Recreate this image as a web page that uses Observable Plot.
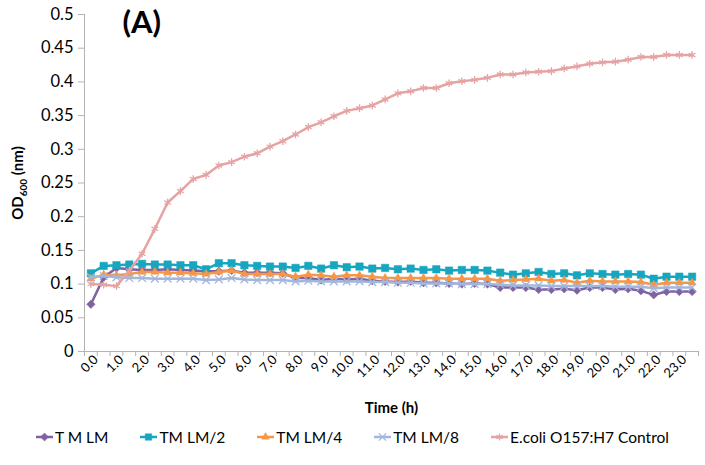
<!DOCTYPE html>
<html><head><meta charset="utf-8">
<script src="https://cdn.jsdelivr.net/npm/d3@7"></script>
<script src="https://cdn.jsdelivr.net/npm/@observablehq/plot@0.6"></script>
<style>
body{margin:0;background:#fff;font-family:Lato,"Open Sans",sans-serif;}
#chart svg{display:block;}
#legend{display:flex;justify-content:center;align-items:center;gap:32px;font-size:15.5px;height:34px;padding-top:0;color:#000;}
#legend .item{display:flex;align-items:center;gap:2px;white-space:nowrap;}
</style></head><body>
<div id="chart"></div>
<div id="legend"></div>
<script>
const times = [0,0.5,1,1.5,2,2.5,3,3.5,4,4.5,5,5.5,6,6.5,7,7.5,8,8.5,9,9.5,10,10.5,11,11.5,12,12.5,13,13.5,14,14.5,15,15.5,16,16.5,17,17.5,18,18.5,19,19.5,20,20.5,21,21.5,22,22.5,23,23.5];
const xTickLabels = [0,1,2,3,4,5,6,7,8,9,10,11,12,13,14,15,16,17,18,19,20,21,22,23];
const yTickLabels = [0,0.05,0.1,0.15,0.2,0.25,0.3,0.35,0.4,0.45,0.5];
const seriesNames = ["T M LM","TM LM/2","TM LM/4","TM LM/8","E.coli O157:H7 Control"];
const tmLm = [0.070,0.110,0.124,0.122,0.121,0.121,0.122,0.121,0.120,0.119,0.119,0.120,0.117,0.117,0.117,0.116,0.109,0.109,0.106,0.108,0.107,0.108,0.105,0.104,0.103,0.104,0.102,0.102,0.101,0.100,0.101,0.100,0.095,0.095,0.095,0.092,0.092,0.093,0.091,0.095,0.095,0.092,0.093,0.090,0.084,0.089,0.089,0.089];
const tmLm2 = [0.116,0.127,0.128,0.129,0.130,0.129,0.129,0.128,0.128,0.122,0.131,0.131,0.128,0.127,0.126,0.126,0.124,0.127,0.123,0.128,0.125,0.126,0.123,0.124,0.122,0.123,0.121,0.122,0.120,0.121,0.121,0.120,0.117,0.114,0.116,0.118,0.115,0.116,0.113,0.116,0.115,0.114,0.115,0.114,0.108,0.111,0.111,0.111];
const tmLm4 = [0.108,0.114,0.113,0.115,0.118,0.118,0.117,0.117,0.116,0.115,0.118,0.120,0.115,0.115,0.115,0.115,0.111,0.114,0.113,0.111,0.113,0.113,0.111,0.109,0.109,0.109,0.109,0.109,0.108,0.108,0.108,0.108,0.105,0.106,0.107,0.108,0.105,0.106,0.102,0.105,0.104,0.104,0.104,0.103,0.099,0.102,0.102,0.102];
const tmLm8 = [0.110,0.112,0.110,0.109,0.109,0.108,0.108,0.108,0.108,0.106,0.107,0.109,0.107,0.106,0.106,0.106,0.104,0.105,0.104,0.104,0.104,0.104,0.103,0.103,0.102,0.102,0.101,0.101,0.101,0.100,0.100,0.100,0.099,0.098,0.098,0.098,0.097,0.097,0.097,0.097,0.097,0.096,0.096,0.096,0.094,0.095,0.095,0.095];
const control = [0.100,0.099,0.097,0.120,0.145,0.182,0.221,0.238,0.256,0.262,0.276,0.281,0.289,0.294,0.304,0.312,0.322,0.333,0.340,0.349,0.357,0.361,0.365,0.374,0.383,0.386,0.391,0.391,0.398,0.401,0.403,0.406,0.411,0.411,0.414,0.415,0.416,0.420,0.423,0.427,0.429,0.430,0.433,0.437,0.437,0.440,0.440,0.440];

const seriesValues = [tmLm, tmLm2, tmLm4, tmLm8, control];
const colors = ["#7E62A1","#17A6C0","#F79646","#A3B6DB","#E6A3A3"];
const symbols = ["diamond2","square","triangle2","times","asterisk"];
const d3Symbols = [d3.symbolDiamond2, d3.symbolSquare, d3.symbolTriangle2, d3.symbolTimes, d3.symbolAsterisk];
const strokeOnly = [false,false,false,true,true];

const data = seriesNames.map((s,k)=>seriesValues[k].map((v,i)=>({series:s,time:times[i],od:v})));
const boundaries = times.map(t=>t-0.25).concat([times[times.length-1]+0.25]);
const xDomain = [boundaries[0], boundaries[boundaries.length-1]];
const axisGray = "#B3B3B3";

const seriesMarks = data.flatMap((d,k)=>[
  Plot.line(d,{x:"time",y:"od",stroke:colors[k],strokeWidth:2.5}),
  Plot.dot(d,{x:"time",y:"od",symbol:()=>symbols[k],r:strokeOnly[k]?3.6:(k===1?4.2:3.8),
    fill:strokeOnly[k]?"none":colors[k],stroke:colors[k],strokeWidth:strokeOnly[k]?1.3:0.5})
]);

const chart = Plot.plot({
  width:705, height:420,
  marginLeft:84, marginRight:7, marginTop:14, marginBottom:69,
  style:{fontFamily:"Lato, 'Open Sans', sans-serif", background:"#fff", color:"#000"},
  x:{type:"linear", domain:xDomain},
  y:{domain:[0,0.5]},
  symbol:{type:"identity"},
  marks:[
    Plot.axisY({ticks:yTickLabels, tickSize:6, tickPadding:5, tickFormat:d=>String(d), fontSize:16.5, stroke:axisGray, fill:"#000", label:null}),
    Plot.axisX({ticks:boundaries, tickSize:5, tickFormat:()=>"", stroke:axisGray, label:null}),
    Plot.axisX({ticks:xTickLabels, tickSize:0, tickPadding:2, tickRotate:-45, tickFormat:d=>d.toFixed(1), fontSize:13, dx:5, dy:4, label:null}),
    Plot.ruleX([xDomain[0]],{stroke:axisGray}),
    Plot.ruleY([0],{stroke:axisGray}),
    ...seriesMarks,
    Plot.text(["(A)"],{frameAnchor:"top-left", dx:38, dy:-4, fontSize:31, fontWeight:"bold", textAnchor:"start"}),
    Plot.text(["Time (h)"],{frameAnchor:"bottom", dy:61, fontSize:15, fontWeight:"bold"})
  ]
});
document.getElementById("chart").appendChild(chart);

// Y axis title with subscript
const svg = d3.select(chart);
const yt = svg.append("text")
  .attr("transform","translate(23,183) rotate(-90)")
  .attr("text-anchor","middle")
  .attr("font-weight","bold").attr("font-size",15).attr("fill","#000")
  .style("font-family","Lato, 'Open Sans', sans-serif");
yt.append("tspan").text("OD");
yt.append("tspan").attr("font-size",10).attr("dy",4).text("600");
yt.append("tspan").attr("dy",-4).text(" (nm)");

// Legend
const legend = d3.select("#legend");
seriesNames.forEach((name,k)=>{
  const item = legend.append("div").attr("class","item");
  const s = item.append("svg").attr("width",17).attr("height",14);
  s.append("line").attr("x1",0).attr("x2",17).attr("y1",7).attr("y2",7).attr("stroke",colors[k]).attr("stroke-width",2.5);
  s.append("path").attr("transform","translate(8.5,7)")
    .attr("d",d3.symbol(d3Symbols[k], strokeOnly[k]?36:42)())
    .attr("fill",strokeOnly[k]?"none":colors[k]).attr("stroke",colors[k]).attr("stroke-width",strokeOnly[k]?1.3:0.5);
  item.append("span").text(name);
});
</script>
</body></html>
